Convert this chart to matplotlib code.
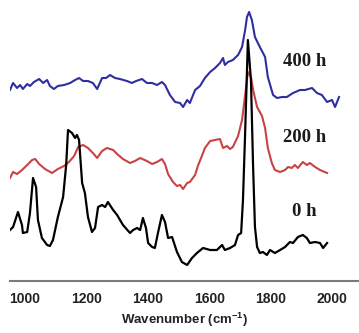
import matplotlib.pyplot as plt

# FTIR spectra, wavenumber (cm-1) vs absorbance (arb. units, stacked)
wn_400 = [951, 961, 974, 984, 993, 1007, 1016, 1029, 1046, 1059, 1072, 1081, 1094, 1107, 1127,
          1147, 1163, 1176, 1189, 1205, 1221, 1235, 1251, 1264, 1277, 1293, 1309, 1332, 1348,
          1362, 1381, 1397, 1414, 1430, 1446, 1456, 1472, 1489, 1505, 1515, 1528, 1537, 1554,
          1570, 1586, 1603, 1619, 1635, 1645, 1651, 1661, 1677, 1694, 1707, 1717, 1723, 1730,
          1739, 1749, 1765, 1782, 1791, 1808, 1821, 1837, 1853, 1873, 1896, 1912, 1935, 1951,
          1967, 1984, 2000, 2010, 2023]
abs_400 = [1.91, 1.98, 1.93, 1.96, 1.92, 1.97, 1.95, 1.99, 2.02, 1.98, 2.01, 1.95, 1.92, 1.95, 1.96,
           1.98, 2.01, 2.03, 2.00, 2.00, 1.98, 1.92, 2.03, 2.03, 2.06, 2.03, 2.02, 2.00, 1.98,
           2.00, 2.02, 1.98, 1.98, 1.96, 1.99, 1.96, 1.86, 1.79, 1.78, 1.74, 1.81, 1.78, 1.91,
           1.95, 2.03, 2.09, 2.13, 2.18, 2.23, 2.16, 2.19, 2.21, 2.26, 2.34, 2.51, 2.64, 2.69,
           2.61, 2.44, 2.34, 2.24, 2.04, 1.86, 1.83, 1.84, 1.84, 1.88, 1.91, 1.91, 1.93, 1.88,
           1.86, 1.79, 1.81, 1.74, 1.84]

wn_200 = [951, 961, 974, 990, 1007, 1023, 1033, 1046, 1065, 1088, 1107, 1127, 1143, 1160, 1173,
          1189, 1205, 1221, 1235, 1251, 1267, 1287, 1300, 1319, 1342, 1358, 1375, 1397, 1414,
          1430, 1446, 1456, 1466, 1482, 1495, 1505, 1515, 1528, 1537, 1554, 1563, 1576, 1586,
          1603, 1619, 1635, 1645, 1658, 1668, 1677, 1694, 1707, 1717, 1726, 1736, 1743, 1756,
          1772, 1782, 1791, 1804, 1814, 1831, 1847, 1857, 1869, 1879, 1889, 1905, 1918, 1928,
          1945, 1961, 1984]
abs_200 = [1.03, 1.09, 1.07, 1.11, 1.16, 1.21, 1.22, 1.17, 1.12, 1.08, 1.12, 1.15, 1.19, 1.25, 1.34,
           1.36, 1.33, 1.28, 1.23, 1.30, 1.33, 1.31, 1.27, 1.22, 1.18, 1.20, 1.23, 1.20, 1.17,
           1.19, 1.22, 1.17, 1.07, 0.99, 0.95, 0.96, 0.92, 0.98, 0.99, 1.06, 1.15, 1.25, 1.33,
           1.40, 1.41, 1.42, 1.33, 1.35, 1.32, 1.34, 1.45, 1.61, 1.86, 2.09, 2.04, 1.91, 1.74,
           1.65, 1.53, 1.33, 1.18, 1.11, 1.09, 1.11, 1.14, 1.13, 1.16, 1.13, 1.19, 1.16, 1.18,
           1.14, 1.11, 1.08]

wn_0 = [951, 961, 977, 990, 993, 1007, 1016, 1026, 1036, 1042, 1055, 1072, 1081, 1091, 1107,
        1124, 1134, 1140, 1153, 1163, 1169, 1176, 1186, 1195, 1205, 1218, 1228, 1238, 1251,
        1261, 1270, 1287, 1300, 1319, 1342, 1352, 1365, 1375, 1384, 1394, 1401, 1414, 1423,
        1433, 1446, 1456, 1466, 1479, 1495, 1511, 1528, 1544, 1560, 1580, 1603, 1625, 1642,
        1651, 1668, 1684, 1694, 1704, 1710, 1717, 1726, 1736, 1743, 1749, 1756, 1765, 1775,
        1788, 1798, 1814, 1831, 1847, 1863, 1873, 1889, 1905, 1918, 1928, 1945, 1961, 1971, 1984]
abs_0 = [0.51, 0.54, 0.69, 0.56, 0.48, 0.49, 0.68, 1.03, 0.94, 0.61, 0.43, 0.36, 0.35, 0.41, 0.64,
         0.84, 1.16, 1.51, 1.48, 1.43, 1.46, 1.41, 0.98, 0.88, 0.64, 0.49, 0.53, 0.74, 0.76,
         0.74, 0.79, 0.71, 0.66, 0.56, 0.48, 0.51, 0.53, 0.51, 0.63, 0.53, 0.38, 0.34, 0.33,
         0.48, 0.66, 0.59, 0.43, 0.44, 0.29, 0.19, 0.16, 0.23, 0.28, 0.33, 0.31, 0.31, 0.36,
         0.31, 0.33, 0.36, 0.46, 0.48, 0.81, 1.48, 2.41, 2.01, 1.14, 0.54, 0.34, 0.28, 0.29,
         0.26, 0.31, 0.28, 0.31, 0.34, 0.39, 0.38, 0.44, 0.46, 0.43, 0.38, 0.39, 0.38, 0.33, 0.38]

labels = ['400 h', '200 h', '0 h']
label_pos = [(1912, 2.19), (1912, 1.43), (1910, 0.69)]

plt.rcParams['mathtext.fontset'] = 'custom'
plt.rcParams['mathtext.rm'] = 'Liberation Sans:bold'
plt.rcParams['mathtext.bf'] = 'Liberation Sans:bold'

fig = plt.figure(figsize=(3.59, 3.33), dpi=100)
ax = fig.add_axes([10/359, 52/333, 349/359, 276/333])

ax.plot(wn_400, abs_400, color='#2e2ea0', lw=1.5)
ax.plot(wn_200, abs_200, color='#c94244', lw=1.5)
ax.plot(wn_0, abs_0, color='black', lw=1.6)

for txt, (x, y) in zip(labels, label_pos):
    ax.text(x, y, txt, ha='center', va='center', fontsize=13.5,
            family='Liberation Serif', fontweight='bold', color='#1a1a1a')

ax.set_xlim(951, 2088)
ax.set_ylim(0, 2.76)
ax.set_xticks([1000, 1200, 1400, 1600, 1800, 2000])
ax.set_yticks([])
for s in ['top', 'left', 'right']:
    ax.spines[s].set_visible(False)
ax.spines['bottom'].set_color('#7a7a7a')
ax.spines['bottom'].set_linewidth(1.5)
ax.tick_params(axis='x', length=0, pad=8)
for t in ax.get_xticklabels():
    t.set_fontfamily('Liberation Sans')
    t.set_fontweight('bold')
    t.set_fontsize(10)
    t.set_color('#222222')

ax.set_xlabel('Wavenumber (cm$^{-1}$)', fontfamily='Liberation Sans',
              fontweight='bold', fontsize=9.5, color='#222222')
ax.xaxis.set_label_coords(0.501, -0.14)
ax.xaxis.label.set_va('center')

fig.savefig('out.png', dpi=100)
